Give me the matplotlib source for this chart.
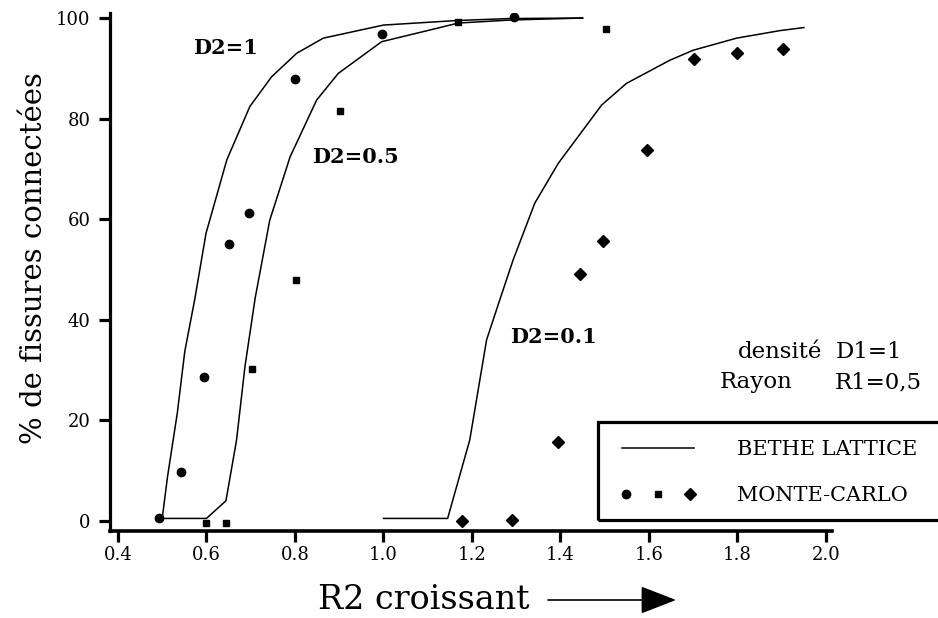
import matplotlib
matplotlib.use("Agg")
import matplotlib.pyplot as plt
from matplotlib.lines import Line2D
from matplotlib.patches import Rectangle
from matplotlib.legend_handler import HandlerTuple

plt.rcParams['font.family'] = ['DejaVu Serif']

# Bethe lattice curves
r2_d1_bethe = [0.50, 0.512, 0.534, 0.551, 0.574, 0.599, 0.646, 0.698, 0.747, 0.804, 0.864, 1.00, 1.165, 1.286, 1.45]
pct_d1_bethe = [0.5, 8.8, 21.4, 33.7, 44.3, 57.2, 71.8, 82.4, 88.3, 93.0, 96.0, 98.6, 99.5, 99.9, 100]

r2_d05_bethe = [0.50, 0.60, 0.644, 0.668, 0.687, 0.710, 0.743, 0.789, 0.849, 0.898, 0.996, 1.09, 1.169, 1.286, 1.45]
pct_d05_bethe = [0.5, 0.5, 4.0, 16.1, 30.7, 44.3, 59.8, 72.4, 83.7, 89.0, 95.3, 97.3, 99.0, 99.6, 100]

r2_d01_bethe = [1.00, 1.145, 1.195, 1.233, 1.263, 1.293, 1.342, 1.395, 1.493, 1.549, 1.647, 1.70, 1.798, 1.896, 1.95]
pct_d01_bethe = [0.5, 0.5, 16.1, 36.0, 44.0, 51.9, 63.2, 71.1, 82.7, 87.0, 91.6, 93.6, 96.0, 97.5, 98.1]

# Monte-Carlo points
r2_d1_mc = [0.493, 0.542, 0.594, 0.652, 0.695, 0.799, 0.996, 1.295]
pct_d1_mc = [0.5, 9.7, 28.6, 55.1, 61.3, 87.9, 96.8, 100.3]

r2_d05_mc = [0.60, 0.645, 0.703, 0.803, 0.902, 1.168, 1.504]
pct_d05_mc = [-0.5, -0.5, 30.2, 48.0, 81.6, 99.3, 97.9]

r2_d01_mc = [1.178, 1.29, 1.395, 1.445, 1.496, 1.596, 1.702, 1.80, 1.902]
pct_d01_mc = [0.0, 0.2, 15.6, 49.2, 55.7, 73.8, 91.8, 93.0, 93.8]

xticks = [0.4, 0.6, 0.8, 1.0, 1.2, 1.4, 1.6, 1.8, 2.0]
yticks = [0, 20, 40, 60, 80, 100]

W, H = 938, 618
fig = plt.figure(figsize=(W / 100, H / 100), dpi=100)
ax = fig.add_axes([110 / W, 1 - 531 / H, 722 / W, 518 / H])

for xs, ys in [(r2_d1_bethe, pct_d1_bethe), (r2_d05_bethe, pct_d05_bethe), (r2_d01_bethe, pct_d01_bethe)]:
    ax.plot(xs, ys, color='black', lw=1.1)

ax.plot(r2_d1_mc, pct_d1_mc, 'o', color='black', ms=6)
ax.plot(r2_d05_mc, pct_d05_mc, 's', color='black', ms=4.5)
ax.plot(r2_d01_mc, pct_d01_mc, 'D', color='black', ms=6)

ax.set_xlim(0.382, 2.0136)
ax.set_ylim(-2.0, 101.0)
ax.set_xticks(xticks)
ax.set_xticklabels([f"{t:.1f}" for t in xticks])
ax.set_yticks(yticks)
ax.spines['top'].set_visible(False)
ax.spines['right'].set_visible(False)
ax.spines['left'].set_linewidth(2.3)
ax.spines['bottom'].set_linewidth(2.6)
ax.tick_params(axis='both', direction='out', length=8, width=2.3, labelsize=13)
ax.tick_params(axis='x', pad=3)
ax.tick_params(axis='y', pad=6)

# curve labels
ax.text(0.644, 94.0, "D2=1", fontsize=15, fontweight='bold', ha='center', va='center')
ax.text(0.936, 72.4, "D2=0.5", fontsize=15, fontweight='bold', ha='center', va='center')
ax.text(1.383, 36.6, "D2=0.1", fontsize=15, fontweight='bold', ha='center', va='center')

# axis labels
fig.text(34 / W, 1 - 258 / H, "% de fissures connectées", rotation=90, fontsize=21, ha='center', va='center')
fig.text(318 / W, 1 - 600 / H, "R2 croissant", fontsize=24, ha='left', va='center')
ax.annotate('', xy=(676, H - 600), xytext=(548, H - 600), xycoords='figure pixels', textcoords='figure pixels',
            arrowprops=dict(arrowstyle='-|>,head_length=0.9,head_width=0.35', color='black', lw=1.2,
                            mutation_scale=25, shrinkA=0, shrinkB=0))

# parameters
fig.text(738 / W, 1 - 352 / H, "densité", fontsize=16.5, ha='left', va='center')
fig.text(836 / W, 1 - 352 / H, "D1=1", fontsize=16.5, ha='left', va='center')
fig.text(720 / W, 1 - 382 / H, "Rayon", fontsize=16.5, ha='left', va='center')
fig.text(835 / W, 1 - 382 / H, "R1=0,5", fontsize=16.5, ha='left', va='center')

# legend
bethe_h = Line2D([], [], color='black', lw=1.1)
mc_h = (Line2D([], [], marker='o', ls='none', color='black', ms=6),
        Line2D([], [], marker='s', ls='none', color='black', ms=4.5),
        Line2D([], [], marker='D', ls='none', color='black', ms=6))
leg = ax.legend([bethe_h, mc_h], ["BETHE LATTICE", "MONTE-CARLO"],
                handler_map={tuple: HandlerTuple(ndivide=None, pad=1.15)},
                loc='center left', bbox_to_anchor=(622 / W, 1 - 472.5 / H), bbox_transform=fig.transFigure,
                frameon=False, fontsize=15, handlelength=3.46, handletextpad=2.07,
                labelspacing=1.3, borderpad=0, borderaxespad=0)
fig.add_artist(Rectangle((598 / W, 1 - 520 / H), 400 / W, 98 / H, transform=fig.transFigure,
                         fill=False, edgecolor='black', lw=2.3))

fig.savefig("out.png", dpi=100)
